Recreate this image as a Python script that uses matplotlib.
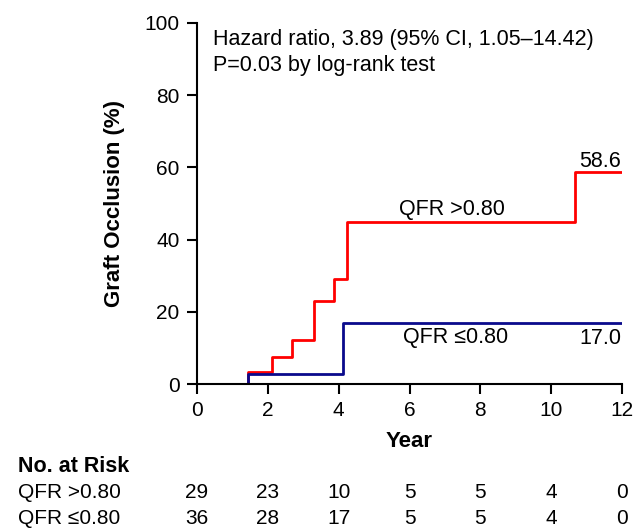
import matplotlib
matplotlib.use("Agg")
import matplotlib.pyplot as plt
import matplotlib.transforms as mtransforms

plt.rcParams['font.family'] = ['Liberation Sans', 'DejaVu Sans']

# Data
high_times = [0, 1.43, 2.12, 2.69, 3.29, 3.88, 4.23, 10.68, 12]
high_vals = [0, 3.4, 7.6, 12.2, 23.1, 29.0, 44.9, 58.6, 58.6]
low_times = [0, 1.43, 4.12, 12]
low_vals = [0, 2.9, 17.0, 17.0]
x_ticks = [0, 2, 4, 6, 8, 10, 12]
y_ticks = [0, 20, 40, 60, 80, 100]
risk_labels = ["QFR >0.80", "QFR \u22640.80"]
risk_high = [29, 23, 10, 5, 5, 4, 0]
risk_low = [36, 28, 17, 5, 5, 4, 0]

W, H = 636, 528
fig = plt.figure(figsize=(W / 100, H / 100), dpi=100)
ax = fig.add_axes([197 / W, 1 - 384 / H, (622 - 197) / W, (384 - 23) / H])

ax.step(high_times, high_vals, where='post', color='#ff0000', lw=2)
ax.step(low_times, low_vals, where='post', color='#0a0a8c', lw=2)

ax.set_xlim(0, 12)
ax.set_ylim(0, 100)
ax.set_xticks(x_ticks)
ax.set_yticks(y_ticks)
ax.spines['top'].set_visible(False)
ax.spines['right'].set_visible(False)
for s in ['left', 'bottom']:
    ax.spines[s].set_linewidth(1.5)
ax.tick_params(direction='out', length=7.5, width=1.5, labelsize=15, pad=5)

ax.set_xlabel("Year", fontsize=16, fontweight='bold', labelpad=8)
ax.set_ylabel("Graft Occlusion (%)", fontsize=16, fontweight='bold', labelpad=14)

fs = 15.5
ax.text(0.45, 95.5, "Hazard ratio, 3.89 (95% CI, 1.05\u201314.42)", fontsize=fs, va='center', ha='left')
ax.text(0.45, 88.3, "P=0.03 by log-rank test", fontsize=fs, va='center', ha='left')
ax.text(7.2, 48.2, "QFR >0.80", fontsize=fs, va='center', ha='center')
ax.text(7.3, 13.0, "QFR \u22640.80", fontsize=fs, va='center', ha='center')
ax.text(11.98, 61.5, "58.6", fontsize=fs, va='center', ha='right')
ax.text(11.98, 12.7, "17.0", fontsize=fs, va='center', ha='right')

# Risk table
tfs = 15
trans = mtransforms.blended_transform_factory(ax.transData, fig.transFigure)
fig.text(18 / W, 1 - 466 / H, "No. at Risk", fontsize=15.5, fontweight='bold', va='center', ha='left')
for row, (lab, vals) in enumerate(zip(risk_labels, [risk_high, risk_low])):
    yf = 1 - (493 + 26 * row) / H
    fig.text(18 / W, yf, lab, fontsize=tfs, va='center', ha='left')
    for xv, v in zip(x_ticks, vals):
        ax.text(xv, yf, str(v), transform=trans, fontsize=tfs, va='center', ha='center', clip_on=False)

fig.savefig("out.png", dpi=100)
